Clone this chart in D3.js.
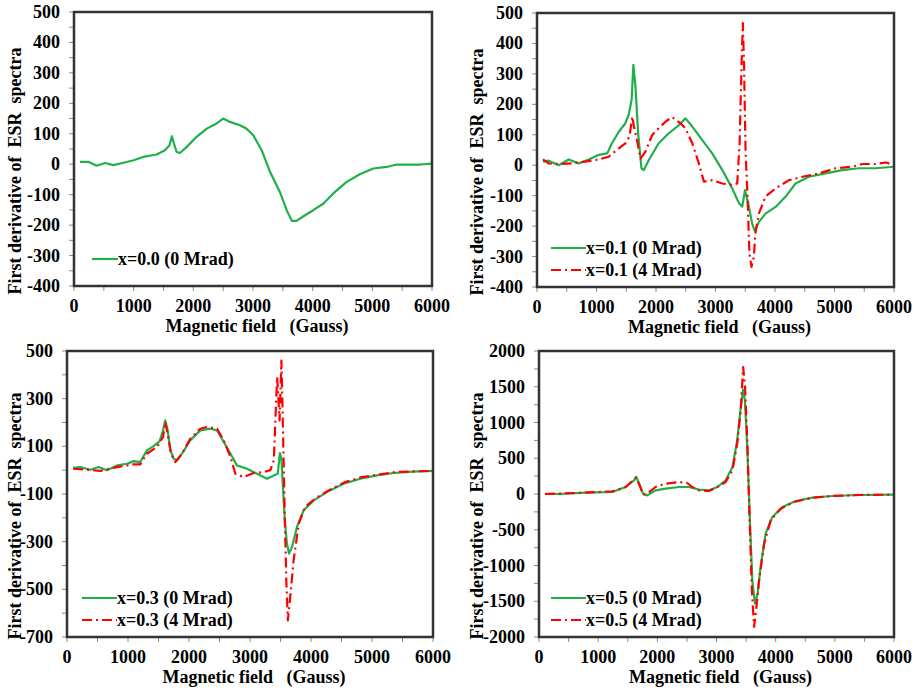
<!DOCTYPE html>
<html>
<head>
<meta charset="utf-8">
<script src="https://cdn.jsdelivr.net/npm/d3@7"></script>
<style>
  body { margin: 0; background: #fff; }
  text { font-family: "Liberation Serif", "Times New Roman", serif; font-weight: bold; fill: #000; }
</style>
</head>
<body>
<svg id="chart" width="918" height="694"></svg>
<script>
// ---- data: field (Gauss) / first derivative ----
var field00 = [100,240,380,520,660,830,1000,1160,1385,1525,1600,1640,1675,1720,1775,1890,2055,2225,2390,2500,2615,2780,2890,3005,3145,3285,3450,3565,3650,3730,3845,4010,4180,4345,4570,4790,5015,5240,5410,5630,5800,6000];
var esr00_0 = [8,8,-5,4,-3,5,13,24,32,46,62,92,68,40,37,57,90,117,134,150,139,128,117,95,46,-25,-91,-151,-186,-186,-171,-151,-129,-96,-58,-33,-14,-9,-1,-1,-1,2];

var field01g = [100,196,365,533,700,870,1040,1180,1260,1375,1485,1540,1590,1620,1655,1700,1755,1795,1880,2045,2215,2385,2495,2610,2775,2945,3115,3280,3395,3450,3495,3550,3615,3660,3730,3840,4010,4180,4345,4570,4850,5130,5410,5690,6000];
var esr01_0 = [12,15,0,19,6,19,34,39,72,110,138,165,215,330,258,105,-10,-16,17,72,105,132,154,127,83,39,-16,-76,-125,-136,-82,-125,-191,-216,-186,-159,-137,-103,-60,-38,-27,-16,-10,-10,-5];
var field01r = [100,196,365,590,810,1040,1205,1375,1485,1555,1600,1630,1680,1740,1820,1935,2045,2160,2270,2410,2495,2610,2720,2805,2945,3115,3280,3365,3405,3440,3460,3480,3505,3540,3570,3605,3645,3670,3730,3840,4010,4235,4460,4740,5020,5300,5470,5690,5865,6000];
var esr01_4 = [19,6,4,6,12,19,28,55,72,94,160,127,83,22,44,99,121,143,158,138,121,72,6,-54,-49,-60,-65,-60,72,345,467,325,50,-114,-290,-334,-300,-224,-158,-103,-76,-49,-38,-27,-10,-5,4,4,9,0];

var field03g = [100,220,380,520,655,820,985,1095,1200,1310,1420,1520,1575,1610,1650,1695,1750,1805,1885,2020,2185,2350,2460,2570,2680,2785,2950,3115,3280,3390,3455,3490,3515,3540,3570,3605,3640,3690,3770,3880,4045,4260,4535,4810,5080,5355,5680,6000];
var esr03_0 = [10,13,2,13,0,20,27,38,34,83,101,122,167,209,167,83,48,41,69,125,167,174,167,118,69,20,6,-15,-36,-22,-15,72,48,-71,-210,-308,-350,-322,-238,-168,-127,-92,-57,-36,-22,-12,-6,-3];
var field03r = [100,330,545,820,1095,1200,1310,1475,1575,1610,1650,1705,1775,1885,2020,2185,2295,2460,2570,2680,2760,2895,3060,3225,3335,3390,3420,3445,3485,3515,3535,3565,3595,3620,3660,3715,3800,3905,4070,4290,4560,4835,5135,5380,5680,6000];
var esr03_4 = [6,2,-3,13,24,24,69,97,139,202,153,69,34,69,132,174,181,174,125,55,-15,-29,-12,-8,0,41,237,391,209,460,237,-140,-462,-630,-532,-378,-224,-154,-119,-85,-50,-29,-18,-8,-5,-3];

var field05g = [100,340,790,1240,1465,1605,1645,1690,1760,1830,1970,2140,2365,2535,2705,2875,3015,3155,3270,3350,3410,3450,3480,3520,3560,3605,3650,3695,3745,3830,3945,4115,4340,4620,4960,5410,6000];
var esr05_0 = [0,0,19,28,98,191,238,145,5,-19,51,75,98,98,61,51,98,191,378,751,1217,1459,1310,657,-275,-1207,-1534,-1394,-1021,-555,-322,-182,-98,-51,-28,-14,-9];
var field05r = [100,790,1240,1465,1635,1690,1760,1830,1970,2140,2365,2505,2590,2705,2875,3015,3155,3270,3350,3410,3450,3480,3520,3560,3595,3635,3675,3720,3805,3915,4085,4310,4620,4960,5410,6000];
var esr05_4 = [0,19,37,98,228,145,-9,5,98,145,168,154,98,51,42,98,168,331,704,1170,1776,1543,751,-368,-1301,-1860,-1580,-1207,-695,-368,-205,-112,-51,-28,-14,-9];

// ---- axis ticks ----
var xTicks = [0,1000,2000,3000,4000,5000,6000];
var yTicks1 = [-400,-300,-200,-100,0,100,200,300,400,500];
var yTicks3 = [-700,-500,-300,-100,100,300,500];
var yTicks4 = [-2000,-1500,-1000,-500,0,500,1000,1500,2000];

var GREEN = "#1fb04b", RED = "#ff0000";

function pairs(xs, ys) { return xs.map(function(x, i) { return [x, ys[i]]; }); }

var panels = [
  { box: [74, 12, 432, 286], ydom: [-400, 500], yLabels: yTicks1, yStep: 50, titleX: 15,
    series: [{ name: "x=0.0 (0 Mrad)", data: pairs(field00, esr00_0), color: GREEN }],
    legend: [92, 259], legW: 26 },
  { box: [537, 13, 894, 287], ydom: [-400, 500], yLabels: yTicks1, yStep: 50, titleX: 477,
    series: [{ name: "x=0.1 (0 Mrad)", data: pairs(field01g, esr01_0), color: GREEN },
             { name: "x=0.1 (4 Mrad)", data: pairs(field01r, esr01_4), color: RED, dash: true }],
    legend: [551, 248], legW: 35 },
  { box: [67, 351, 433, 637], ydom: [-700, 500], yLabels: yTicks3, yStep: 100, titleX: 15,
    series: [{ name: "x=0.3 (0 Mrad)", data: pairs(field03g, esr03_0), color: GREEN },
             { name: "x=0.3 (4 Mrad)", data: pairs(field03r, esr03_4), color: RED, dash: true }],
    legend: [82, 598], legW: 35 },
  { box: [539, 351, 894, 637], ydom: [-2000, 2000], yLabels: yTicks4, yStep: 250, titleX: 477,
    series: [{ name: "x=0.5 (0 Mrad)", data: pairs(field05g, esr05_0), color: GREEN },
             { name: "x=0.5 (4 Mrad)", data: pairs(field05r, esr05_4), color: RED, dash: true }],
    legend: [551, 598], legW: 35 }
];

var svg = d3.select("#chart");

panels.forEach(function(p) {
  var L = p.box[0], T = p.box[1], R = p.box[2], B = p.box[3];
  var x = d3.scaleLinear().domain([0, 6000]).range([L, R]);
  var y = d3.scaleLinear().domain(p.ydom).range([B, T]);
  var g = svg.append("g");

  // minor/major tick marks (gray, outside)
  var yMarks = d3.range(p.ydom[0], p.ydom[1] + 1, p.yStep);
  g.selectAll(".ytm").data(yMarks).enter().append("line")
    .attr("x1", L - 5).attr("x2", L).attr("y1", function(d) { return y(d); }).attr("y2", function(d) { return y(d); })
    .attr("stroke", "#8a8a8a").attr("stroke-width", 1);
  g.selectAll(".xtm").data(d3.range(0, 6001, 500)).enter().append("line")
    .attr("y1", B).attr("y2", B + 5).attr("x1", function(d) { return x(d); }).attr("x2", function(d) { return x(d); })
    .attr("stroke", "#8a8a8a").attr("stroke-width", 1);

  // tick labels
  g.selectAll(".yl").data(p.yLabels).enter().append("text")
    .attr("x", L - 14).attr("y", function(d) { return y(d) + 6; })
    .attr("text-anchor", "end").attr("font-size", 18)
    .text(function(d) { return d; });
  g.selectAll(".xl").data(xTicks).enter().append("text")
    .attr("x", function(d) { return x(d); }).attr("y", B + 26)
    .attr("text-anchor", "middle").attr("font-size", 18)
    .text(function(d) { return d; });

  // curves
  var line = d3.line().x(function(d) { return x(d[0]); }).y(function(d) { return y(d[1]); });
  p.series.forEach(function(s) {
    g.append("path").attr("d", line(s.data)).attr("fill", "none")
      .attr("stroke", s.color).attr("stroke-width", 2.2)
      .attr("stroke-linejoin", "round")
      .attr("stroke-dasharray", s.dash ? "10,4,2,4" : null);
  });

  // frame
  g.append("rect").attr("x", L).attr("y", T).attr("width", R - L).attr("height", B - T)
    .attr("fill", "none").attr("stroke", "#333").attr("stroke-width", 2.5);

  // legend
  p.series.forEach(function(s, i) {
    var ly = p.legend[1] + i * 22;
    g.append("line").attr("x1", p.legend[0]).attr("x2", p.legend[0] + p.legW)
      .attr("y1", ly).attr("y2", ly).attr("stroke", s.color).attr("stroke-width", 2.2)
      .attr("stroke-dasharray", s.dash ? "10,4,2,4" : null);
    g.append("text").attr("x", p.legend[0] + p.legW).attr("y", ly + 6)
      .attr("font-size", 18).text(s.name);
  });

  // axis titles
  g.append("text").attr("x", (L + R) / 2 + 4).attr("y", B + 46)
    .attr("text-anchor", "middle").attr("font-size", 18)
    .attr("xml:space", "preserve").style("white-space", "pre")
    .text("Magnetic field   (Gauss)");
  g.append("text")
    .attr("transform", "translate(" + (p.titleX + 6) + "," + ((T + B) / 2 + 22) + ") rotate(-90)")
    .attr("text-anchor", "middle").attr("font-size", 18)
    .attr("xml:space", "preserve").style("white-space", "pre")
    .text("First derivative of  ESR  spectra");
});
</script>
</body>
</html>
